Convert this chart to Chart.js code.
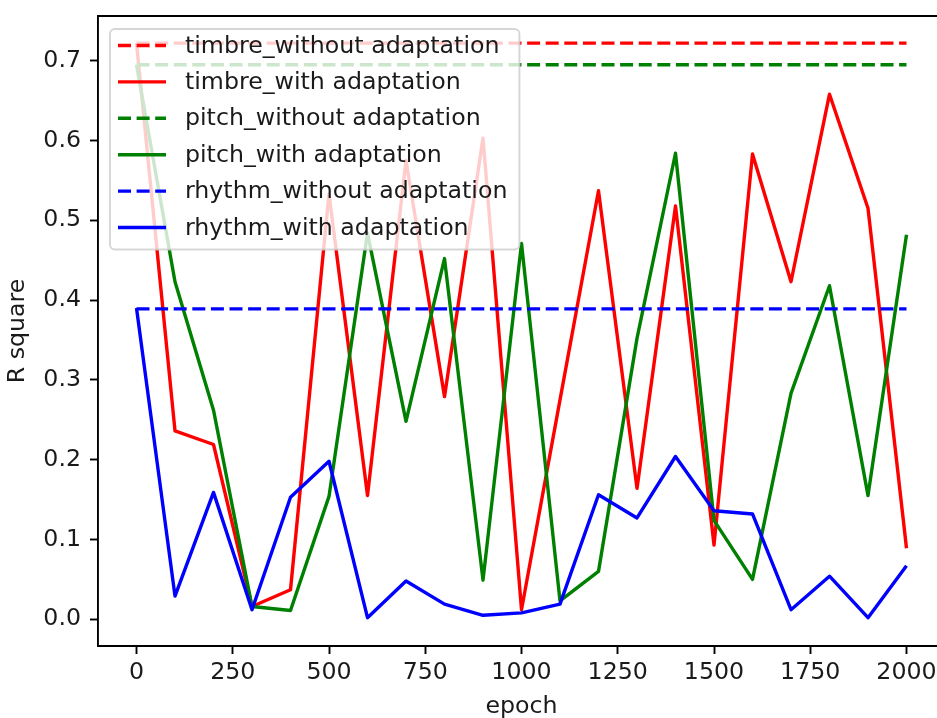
<!DOCTYPE html>
<html>
<head>
<meta charset="utf-8">
<script src="https://cdn.jsdelivr.net/npm/chart.js@4/dist/chart.umd.min.js"></script>
<style>
  html, body { margin: 0; padding: 0; background: #fff; overflow: hidden; width: 937px; height: 718px; }
  #wrap { width: 960px; height: 718px; }
</style>
</head>
<body>
<div id="wrap"><canvas id="c" width="960" height="718"></canvas></div>
<script>
// ---- data ----
const epochs = [0, 100, 200, 300, 400, 500, 600, 700, 800, 900, 1000,
                1100, 1200, 1300, 1400, 1500, 1600, 1700, 1800, 1900, 2000];
const timbreWith = [0.722, 0.236, 0.219, 0.016, 0.037, 0.533, 0.155, 0.575, 0.279, 0.603, 0.012,
                    0.275, 0.537, 0.164, 0.518, 0.093, 0.583, 0.423, 0.658, 0.515, 0.089];
const pitchWith  = [0.695, 0.423, 0.262, 0.016, 0.011, 0.154, 0.484, 0.248, 0.452, 0.049, 0.471,
                    0.023, 0.060, 0.352, 0.584, 0.124, 0.050, 0.283, 0.418, 0.155, 0.482];
const rhythmWith = [0.390, 0.029, 0.159, 0.012, 0.153, 0.198, 0.002, 0.048, 0.019, 0.005, 0.008,
                    0.019, 0.156, 0.127, 0.204, 0.136, 0.132, 0.012, 0.054, 0.002, 0.067];
const timbreWithout = 0.722;
const pitchWithout  = 0.695;
const rhythmWithout = 0.389;
const seriesLabels = ['timbre_without adaptation', 'timbre_with adaptation',
                      'pitch_without adaptation', 'pitch_with adaptation',
                      'rhythm_without adaptation', 'rhythm_with adaptation'];
const xTicks = [0, 250, 500, 750, 1000, 1250, 1500, 1750, 2000];
const yTicks = [0.0, 0.1, 0.2, 0.3, 0.4, 0.5, 0.6, 0.7];
const xTitle = 'epoch';
const yTitle = 'R square';

// ---- helpers ----
const FONT = 'DejaVu Sans';
const FS = 23.7;
const LW = 3.4;
const DASH = [13, 5.6];
const pts = (ys) => epochs.map((e, i) => ({x: e, y: ys[i]}));
const flat = (v) => [{x: epochs[0], y: v}, {x: epochs[epochs.length - 1], y: v}];

function ds(label, data, color, dashed, order) {
  return {
    label, data, borderColor: color, backgroundColor: color,
    borderWidth: LW, borderDash: dashed ? DASH : [],
    borderJoinStyle: 'round', borderCapStyle: 'butt',
    pointRadius: 0, pointHoverRadius: 0, tension: 0, fill: false, order
  };
}

const datasets = [
  ds(seriesLabels[0], flat(timbreWithout), '#ff0000', true, 6),
  ds(seriesLabels[1], pts(timbreWith), '#ff0000', false, 5),
  ds(seriesLabels[2], flat(pitchWithout), '#008000', true, 4),
  ds(seriesLabels[3], pts(pitchWith), '#008000', false, 3),
  ds(seriesLabels[4], flat(rhythmWithout), '#0000ff', true, 2),
  ds(seriesLabels[5], pts(rhythmWith), '#0000ff', false, 1)
];

const framePlugin = {
  id: 'frame',
  afterDatasetsDraw(chart) {
    const {ctx, chartArea: a} = chart;
    ctx.save();
    ctx.strokeStyle = '#000';
    ctx.lineWidth = 1.9;
    ctx.beginPath();
    ctx.moveTo(a.left, a.top); ctx.lineTo(a.right, a.top);
    ctx.moveTo(a.right, a.top); ctx.lineTo(a.right, a.bottom);
    ctx.stroke();
    ctx.restore();
  }
};

const legendPlugin = {
  id: 'mplLegend',
  afterDraw(chart) {
    const {ctx, chartArea: a} = chart;
    const dsets = chart.data.datasets;
    ctx.save();
    ctx.font = FS + 'px "' + FONT + '"';
    let maxW = 0;
    dsets.forEach(d => { maxW = Math.max(maxW, ctx.measureText(d.label).width); });
    const left = a.left + 12, top = a.top + 13;
    const handleX0 = left + 8, handleX1 = left + 56, textX = left + 75;
    const rowH = 36.4, firstY = top + 16.5;
    const right = textX + maxW + 12;
    const bottom = firstY + rowH * (dsets.length - 1) + 22;
    const r = 5;
    ctx.beginPath();
    ctx.moveTo(left + r, top);
    ctx.arcTo(right, top, right, bottom, r);
    ctx.arcTo(right, bottom, left, bottom, r);
    ctx.arcTo(left, bottom, left, top, r);
    ctx.arcTo(left, top, right, top, r);
    ctx.closePath();
    ctx.fillStyle = 'rgba(255,255,255,0.8)';
    ctx.fill();
    ctx.strokeStyle = 'rgba(204,204,204,0.8)';
    ctx.lineWidth = 1.9;
    ctx.stroke();
    dsets.forEach((d, i) => {
      const y = firstY + rowH * i;
      ctx.beginPath();
      ctx.setLineDash(d.borderDash || []);
      ctx.strokeStyle = d.borderColor;
      ctx.lineWidth = d.borderWidth;
      ctx.lineCap = 'butt';
      ctx.moveTo(handleX0, y); ctx.lineTo(handleX1, y);
      ctx.stroke();
      ctx.setLineDash([]);
      ctx.fillStyle = '#1a1a1a';
      ctx.textBaseline = 'middle';
      ctx.textAlign = 'left';
      ctx.fillText(d.label, textX, y + 1);
    });
    ctx.restore();
  }
};

function zeroPad(s) { s.paddingTop = 0; s.paddingBottom = 0; s.paddingLeft = 0; s.paddingRight = 0; }

new Chart(document.getElementById('c'), {
  type: 'line',
  data: { datasets },
  plugins: [framePlugin, legendPlugin],
  options: {
    responsive: false,
    animation: false,
    events: [],
    layout: { padding: { top: 16, right: 15, left: 0, bottom: 0 } },
    plugins: { legend: { display: false }, tooltip: { enabled: false } },
    scales: {
      x: {
        type: 'linear', min: -100, max: 2100,
        afterFit(s) { s.height = 72; zeroPad(s); },
        afterBuildTicks(s) { s.ticks = xTicks.map(v => ({value: v})); },
        ticks: {
          font: { family: FONT, size: FS }, color: '#1a1a1a', padding: 5,
          maxRotation: 0, autoSkip: false,
          callback: (v) => String(v)
        },
        grid: { display: true, drawOnChartArea: false, drawTicks: true,
                tickLength: 8, tickWidth: 1.9, tickColor: '#000' },
        border: { display: true, color: '#000', width: 1.9 },
        title: { display: true, text: xTitle, color: '#1a1a1a',
                 font: { family: FONT, size: FS }, padding: { top: 0, bottom: -3 } }
      },
      y: {
        type: 'linear', min: -0.0335, max: 0.756,
        afterFit(s) { s.width = 98; zeroPad(s); },
        afterBuildTicks(s) { s.ticks = yTicks.map(v => ({value: v})); },
        ticks: {
          font: { family: FONT, size: FS }, color: '#1a1a1a', padding: 9,
          autoSkip: false,
          callback: (v) => Number(v).toFixed(1)
        },
        grid: { display: true, drawOnChartArea: false, drawTicks: true,
                tickLength: 8, tickWidth: 1.9, tickColor: '#000' },
        border: { display: true, color: '#000', width: 1.9 },
        title: { display: true, text: yTitle, color: '#1a1a1a',
                 font: { family: FONT, size: FS }, padding: { top: 4, bottom: 0 } }
      }
    }
  }
});
</script>
</body>
</html>
